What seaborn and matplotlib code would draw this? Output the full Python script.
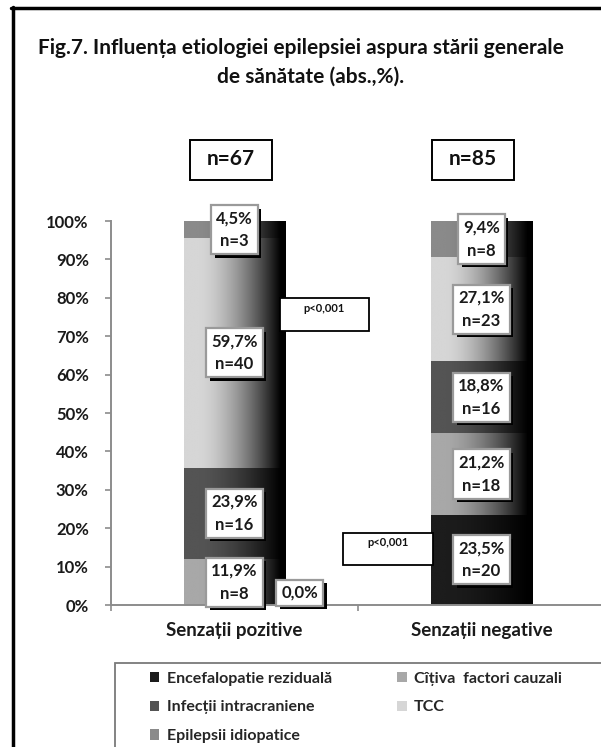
import numpy as np
import matplotlib
matplotlib.use("Agg")
import matplotlib.pyplot as plt
import seaborn as sns
from matplotlib.colors import to_rgb
from matplotlib.patches import Rectangle
from matplotlib.lines import Line2D
from matplotlib.transforms import offset_copy
import matplotlib.patheffects as pe

# ---- data -------------------------------------------------------------
categories = ["Senzații pozitive", "Senzații negative"]
group_n = [67, 85]
series = ["Encefalopatie reziduală", "Cîțiva  factori cauzali",
          "Infecții intracraniene", "TCC", "Epilepsii idiopatice"]
pct_encefalopatie = [0.0, 23.5]
pct_factori = [11.9, 21.2]
pct_infectii = [23.9, 18.8]
pct_tcc = [59.7, 27.1]
pct_idiopatice = [4.5, 9.4]
n_encefalopatie = [0, 20]
n_factori = [8, 18]
n_infectii = [16, 16]
n_tcc = [40, 23]
n_idiopatice = [3, 8]
series_colors = ["#1c1c1c", "#a8a8a8", "#545454", "#d6d6d6", "#8a8a8a"]

pct_all = [pct_encefalopatie, pct_factori, pct_infectii, pct_tcc, pct_idiopatice]
n_all = [n_encefalopatie, n_factori, n_infectii, n_tcc, n_idiopatice]

# ---- style --------------------------------------------------------------
sns.set_theme(style="white")
plt.rcParams["font.family"] = ["Lato", "DejaVu Sans"]
plt.rcParams["font.weight"] = "bold"

W, H = 601, 747
fig = plt.figure(figsize=(W / 100, H / 100), dpi=100)


def fx(px):
    return px / W


def fy(py):
    return 1 - py / H


ax = fig.add_axes([fx(111), fy(605), fx(605) - fx(111), fy(221) - fy(605)])

bar_width = 0.41


def shade(ax, patch, base):
    """Cylinder-like horizontal shading of a bar segment."""
    x0, y0 = patch.get_x(), patch.get_y()
    w, h = patch.get_width(), patch.get_height()
    if h <= 0:
        return
    t = np.linspace(0, 1, 256)
    f = 1 - np.clip((t - 0.15) / 0.8, 0, 1) ** 1.6
    rgb = np.outer(f, np.array(to_rgb(base)))[np.newaxis, :, :]
    im = ax.imshow(rgb, extent=(x0, x0 + w, y0, y0 + h), aspect="auto",
                   interpolation="bilinear", zorder=2.1)
    im.set_clip_path(patch)


bottoms = np.zeros(len(categories))
segments = []
for name, vals, color in zip(series, pct_all, series_colors):
    frac = np.array(vals) / 100.0
    before = len(ax.patches)
    sns.barplot(x=categories, y=frac, bottom=bottoms, width=bar_width,
                color=color, order=categories, ax=ax, edgecolor="none",
                linewidth=0, zorder=2)
    for p in ax.patches[before:]:
        shade(ax, p, color)
    segments.append((bottoms.copy(), frac))
    bottoms = bottoms + frac

ax.set_xlim(-0.5, 1.5)
ax.set_ylim(0, 1.0)

# ---- data labels ----------------------------------------------------------
shadow_fx = [pe.SimplePatchShadow(offset=(2.5, -2.5), shadow_rgbFace="black",
                                  alpha=1.0), pe.Normal()]
for (bot, frac), vals, ns in zip(segments, pct_all, n_all):
    for i in range(len(categories)):
        pct_txt = f"{vals[i]:.1f}".replace(".", ",") + "%"
        if ns[i] == 0:
            txt = pct_txt
            tr = offset_copy(ax.transData, fig=fig, x=47, y=9, units="points")
        else:
            txt = f"{pct_txt}\nn={ns[i]}"
            tr = ax.transData
        yc = bot[i] + frac[i] / 2
        t = ax.text(i, yc, txt, transform=tr, color="#1a1a1a", ha="center",
                    va="center", fontsize=12, fontweight="bold", linespacing=1.55,
                    zorder=6,
                    bbox=dict(boxstyle="square,pad=0.3", fc="white",
                              ec="#9a9a9a", lw=1.6))
        t.get_bbox_patch().set_path_effects(shadow_fx)

# ---- axes styling ---------------------------------------------------------
sns.despine(ax=ax, top=True, right=True)
for side in ("left", "bottom"):
    ax.spines[side].set_color("#8c8c8c")
    ax.spines[side].set_linewidth(1.4)
yt = np.arange(0, 1.01, 0.1)
ax.set_yticks(yt)
ax.set_yticklabels([f"{int(round(v * 100))}%" for v in yt], fontsize=12,
                   fontweight="bold", color="#1a1a1a")
ax.tick_params(axis="y", length=4, width=1.2, color="#8c8c8c", pad=12, left=True)
ax.set_xticks([0, 1])
ax.set_xticklabels(categories, fontsize=13.5, fontweight="bold", color="#1a1a1a")
ax.set_xticks([-0.5, 0.5, 1.5], minor=True)
ax.tick_params(axis="x", which="major", length=0, pad=12)
ax.tick_params(axis="x", which="minor", length=4, width=1.2, color="#8c8c8c",
               bottom=True)
ax.set_xlabel("")
ax.set_ylabel("")
ax.grid(False)

# ---- title ----------------------------------------------------------------
fig.text(fx(301), fy(48), "Fig.7. Influența etiologiei epilepsiei aspura stării generale",
         ha="center", va="center", fontsize=15, fontweight="bold", color="#111111")
fig.text(fx(311), fy(77), "de sănătate (abs.,%).",
         ha="center", va="center", fontsize=15, fontweight="bold", color="#111111")

# ---- group size boxes -------------------------------------------------------
for cx, n in zip([231, 473], group_n):
    fig.patches.append(Rectangle((fx(cx - 41), fy(180)), fx(82), fy(140) - fy(180),
                                 transform=fig.transFigure, fc="white", ec="black",
                                 lw=1.4))
    fig.text(fx(cx), fy(159), f"n={n}", ha="center", va="center", fontsize=15,
             fontweight="bold", color="#111111")

# ---- significance boxes -----------------------------------------------------
for (x0, y0, x1, y1) in [(280, 298, 369, 331), (343, 533, 433, 565)]:
    fig.patches.append(Rectangle((fx(x0), fy(y1)), fx(x1 - x0), fy(y0) - fy(y1),
                                 transform=fig.transFigure, fc="white", ec="black",
                                 lw=1.3, zorder=7))
    fig.text(fx((x0 + x1) / 2), fy(y0 + 10), "p<0,001", ha="center", va="center",
             fontsize=8, fontweight="bold", color="#111111", zorder=8)

# ---- legend ---------------------------------------------------------------
fig.patches.append(Rectangle((fx(115), fy(760)), fx(500), fy(663) - fy(760),
                             transform=fig.transFigure, fc="none", ec="#7a7a7a",
                             lw=1.3))
handles = [Rectangle((0, 0), 1, 1, fc=c, ec="none") for c in series_colors]
order = [0, 2, 4, 1, 3]
fig.legend([handles[k] for k in order], [series[k] for k in order],
           loc="upper left", bbox_to_anchor=(fx(137), fy(659)), ncol=2,
           frameon=False, handlelength=0.6, handleheight=0.6,
           handletextpad=0.45, labelspacing=0.92, columnspacing=4.1,
           borderpad=0.3, prop=dict(weight="bold", size=11.5))

# ---- outer frame -------------------------------------------------------------
fig.add_artist(Line2D([fx(11), fx(620)], [fy(8), fy(8)], transform=fig.transFigure,
                      color="black", lw=2.5))
fig.add_artist(Line2D([fx(12.5), fx(12.5)], [fy(7), fy(760)], transform=fig.transFigure,
                      color="black", lw=2.5))

fig.savefig("out.png", dpi=100)
